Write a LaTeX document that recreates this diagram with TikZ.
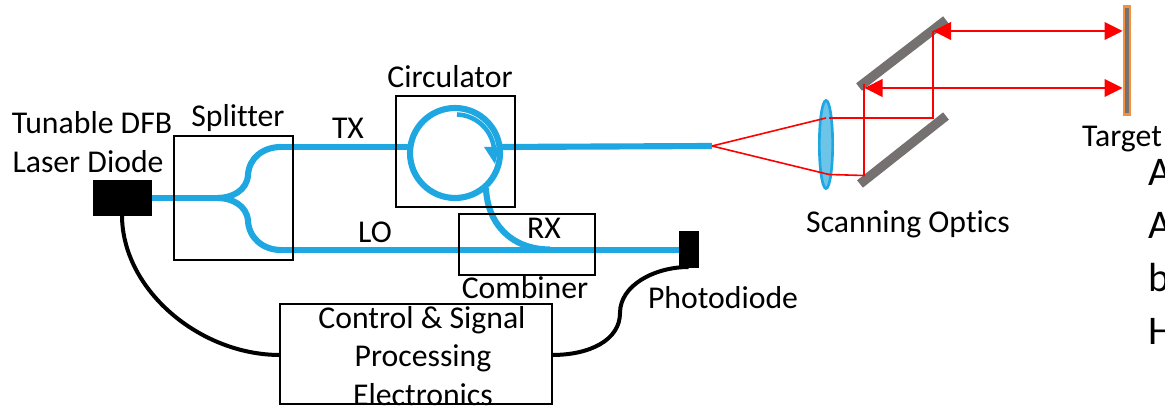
\documentclass[tikz,border=0pt]{standalone}
\usepackage{fontspec}
\setmainfont[Ligatures={NoCommon}]{Carlito}
\usetikzlibrary{arrows.meta,shapes.geometric}
\definecolor{fibre}{HTML}{1FA7E1}
\definecolor{lensfill}{HTML}{6CC4E8}
\definecolor{mirror}{HTML}{767171}
\definecolor{targetedge}{HTML}{F4913F}
\tikzset{
  x=0.75pt,y=-0.75pt,
  lbl/.style={inner sep=0pt,font=\fontsize{23.8}{28}\selectfont,text=black},
  biglbl/.style={inner sep=0pt,anchor=west,font=\fontsize{30.5}{36}\selectfont,text=black},
  box/.style={draw=black,line width=1.6pt,inner sep=0pt,outer sep=0pt,anchor=north west},
  solid box/.style={fill=black,draw=black,line width=0.5pt,inner sep=0pt,outer sep=0pt,anchor=north west},
  fibreline/.style={draw=fibre,line width=4.6pt},
  wire/.style={draw=black,line width=3pt},
  ray/.style={draw=red,line width=1.2pt},
  beam/.style={draw=red,line width=2pt,{Triangle[length=13.5pt,width=13pt]}-{Triangle[length=13.5pt,width=13pt]}},
  mirrorbar/.style={draw=mirror,line width=7pt},
}
\begin{document}
\begin{tikzpicture}
\useasboundingbox (0,0) rectangle (1165,409);
\begin{scope}
\clip (0,0) rectangle (1165,409);
% junctions
\coordinate (splitin) at (218,198);
\coordinate (apex) at (712,146);
\coordinate (rxjoin) at (550,249.5);
\coordinate (rxstart) at (486,188);
\coordinate (txend) at (408,147);
\coordinate (txout) at (500,147);
\coordinate (top1) at (829,118);
\coordinate (top2) at (933,118);
\coordinate (bot1) at (829,174.5);
\coordinate (bot2) at (864,175.5);
\coordinate (up1) at (933,31);
\coordinate (up2) at (864,84);
\coordinate (lenst) at (826,118);
% fibres
\coordinate (txa) at (281,147);
\coordinate (loa) at (281,250);
\path[fibreline] (151,198) -- (splitin);
\path[fibreline] (splitin) .. controls (231,198) and (247,191) .. (248,175) .. controls (249,158) and (263,147) .. (txa);
\path[fibreline] (splitin) .. controls (231,198) and (247,205) .. (248,221) .. controls (249,238) and (263,250) .. (loa);
\path[fibreline] (txa) -- (txend);
\path[fibreline] (loa) -- (680,250);
\path[fibreline] (txout) -- (apex);
\path[fibreline] (rxstart) .. controls (487,222) and (510,249.5) .. (rxjoin);
% circulator ring and inner arc
\node[circle,draw=fibre,line width=4.6pt,minimum size=67.5pt,inner sep=0pt] (ring) at (455,153) {};
\path[draw=fibre,line width=3.4pt] (457,114.5) arc[start angle=88,end angle=2,radius=29pt];
\path[fill=fibre] (484,147) -- (499,147) -- (495,164) -- cycle;
% boxes
\node[box,minimum width=89.25pt,minimum height=93pt] (splitter) at (174,136) {};
\node[box,minimum width=89.25pt,minimum height=83.25pt] (circ) at (396,96) {};
\node[box,minimum width=102pt,minimum height=45.75pt] (comb) at (459,214) {};
\node[box,minimum width=204pt,minimum height=75pt] (ctrl) at (280,304) {};
\node[solid box,minimum width=43.5pt,minimum height=26.25pt] (laser) at (93,180) {};
\node[solid box,minimum width=14.25pt,minimum height=27pt] (pd) at (679,231) {};
% wires
\path[wire] (122,215) .. controls (122,290) and (200,355) .. (ctrl.west |- 0,355);
\path[wire] (ctrl.east |- 0,355) .. controls (590,355) and (620,340) .. (620,313) .. controls (620,285) and (655,267) .. (pd.south);
% lens
\node[ellipse,draw=fibre,fill=lensfill,line width=2pt,minimum width=10pt,minimum height=66pt,inner sep=0pt] (lens) at (826,144.5) {};
% mirrors
\coordinate (m1a) at (859,87); \coordinate (m1b) at (946,20);
\coordinate (m2a) at (860,184); \coordinate (m2b) at (946,116);
\path[mirrorbar] (m1a) -- (m1b);
\path[mirrorbar] (m2a) -- (m2b);
% target
\node[draw=targetedge,fill=mirror,line width=1.6pt,minimum width=5pt,minimum height=81pt,inner sep=0pt] (target) at (1127,60.5) {};
% rays
\path[ray] (apex) -- (lenst);
\path[ray] (apex) -- (bot1);
\path[ray] (top1) -- (top2) -- (up1);
\path[ray] (bot1) -- (bot2) -- (up2);
\path[beam] (up1) -- (target.west |- up1);
\path[beam] (864.5,88) -- (target.west |- 0,88);
% labels
\node[lbl] (l1) at (92,123) {Tunable DFB};
\node[lbl] (l2) at (88,162) {Laser Diode};
\node[lbl] (l3) at (238,118) {Splitter};
\node[lbl] (l4) at (450,77) {Circulator};
\node[lbl] (l5) at (348,128) {TX};
\node[lbl] (l6) at (375,232) {LO};
\node[lbl] (l7) at (544,228) {RX};
\node[lbl] (l8) at (525,288) {Combiner};
\node[lbl] (l9) at (422,320) {Control \& Signal};
\node[lbl] (l10) at (423,358) {Processing};
\node[lbl] (l11) at (423,395) {Electronics};
\node[lbl] (l12) at (723,298) {Photodiode};
\node[lbl] (l13) at (908,224) {Scanning Optics};
\node[lbl] (l14) at (1122,139) {Target};
\node[biglbl] (c1) at (1148,172) {A};
\node[biglbl] (c2) at (1148,225) {A};
\node[biglbl] (c3) at (1148,277.5) {b};
\node[biglbl] (c4) at (1148,331) {H};
\end{scope}
\end{tikzpicture}
\end{document}
